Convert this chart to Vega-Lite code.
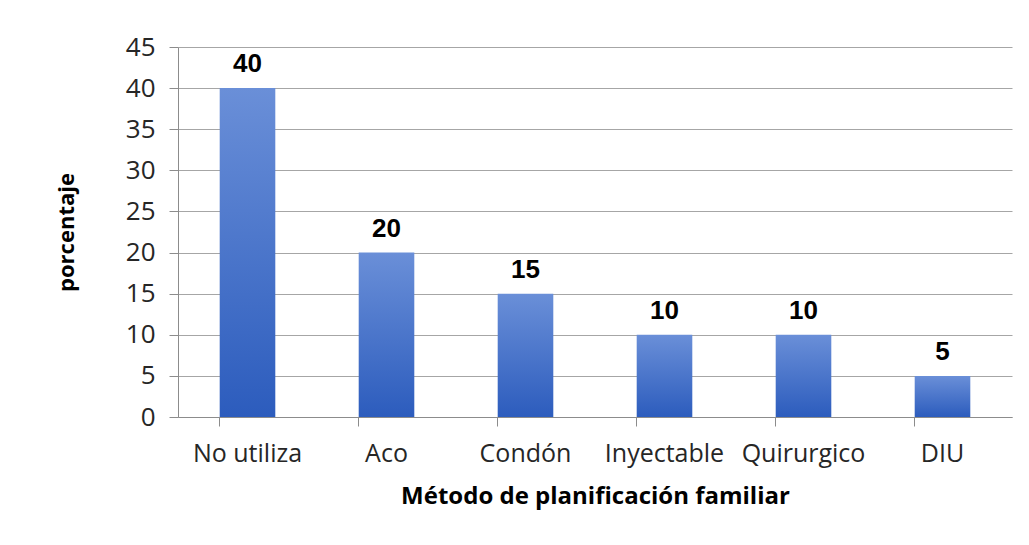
{
  "$schema": "https://vega.github.io/schema/vega-lite/v6.json",
  "autosize": {"type": "none"},
  "width": 834,
  "height": 370,
  "padding": {"left": 178, "top": 47, "right": 17, "bottom": 128},
  "background": "white",
  "data": {"values": [
    {"metodo": "No utiliza", "porcentaje": 40},
    {"metodo": "Aco", "porcentaje": 20},
    {"metodo": "Condón", "porcentaje": 15},
    {"metodo": "Inyectable", "porcentaje": 10},
    {"metodo": "Quirurgico", "porcentaje": 10},
    {"metodo": "DIU", "porcentaje": 5}
  ]},
  "encoding": {
    "x": {
      "field": "metodo", "type": "nominal", "sort": null,
      "scale": {"paddingInner": 0.6, "paddingOuter": 0.3},
      "axis": {
        "title": "Método de planificación familiar",
        "titleFont": "Open Sans", "titleFontSize": 24, "titleFontWeight": "bold", "titleColor": "#000000",
        "titlePadding": 18,
        "labelFont": "Open Sans", "labelFontSize": 25, "labelColor": "#262626", "labelAngle": 0, "labelPadding": 15,
        "bandPosition": 0, "tickSize": 9, "tickColor": "#8c8c8c", "domainColor": "#8c8c8c", "grid": false
      }
    },
    "y": {
      "field": "porcentaje", "type": "quantitative",
      "scale": {"domain": [0, 45]},
      "axis": {
        "title": "porcentaje", "values": [0, 5, 10, 15, 20, 25, 30, 35, 40, 45],
        "titleFont": "Open Sans", "titleFontSize": 22, "titleFontWeight": "bold", "titleColor": "#000000",
        "titlePadding": 47,
        "labelFont": "Open Sans", "labelFontSize": 26, "labelColor": "#262626", "labelPadding": 14,
        "tickSize": 9, "tickColor": "#8c8c8c", "domainColor": "#8c8c8c",
        "gridColor": "#a6a6a6", "gridWidth": 1
      }
    }
  },
  "layer": [
    {
      "mark": {
        "type": "bar",
        "color": {
          "gradient": "linear", "x1": 0, "y1": 0, "x2": 0, "y2": 1,
          "stops": [{"offset": 0, "color": "#6a8fd8"}, {"offset": 1, "color": "#2c5cbd"}]
        }
      }
    },
    {
      "mark": {"type": "text", "baseline": "bottom", "dy": -11, "font": "Liberation Sans", "fontSize": 26, "fontWeight": "bold", "color": "#000000"},
      "encoding": {"text": {"field": "porcentaje", "type": "quantitative"}}
    }
  ],
  "config": {"view": {"stroke": null}}
}
